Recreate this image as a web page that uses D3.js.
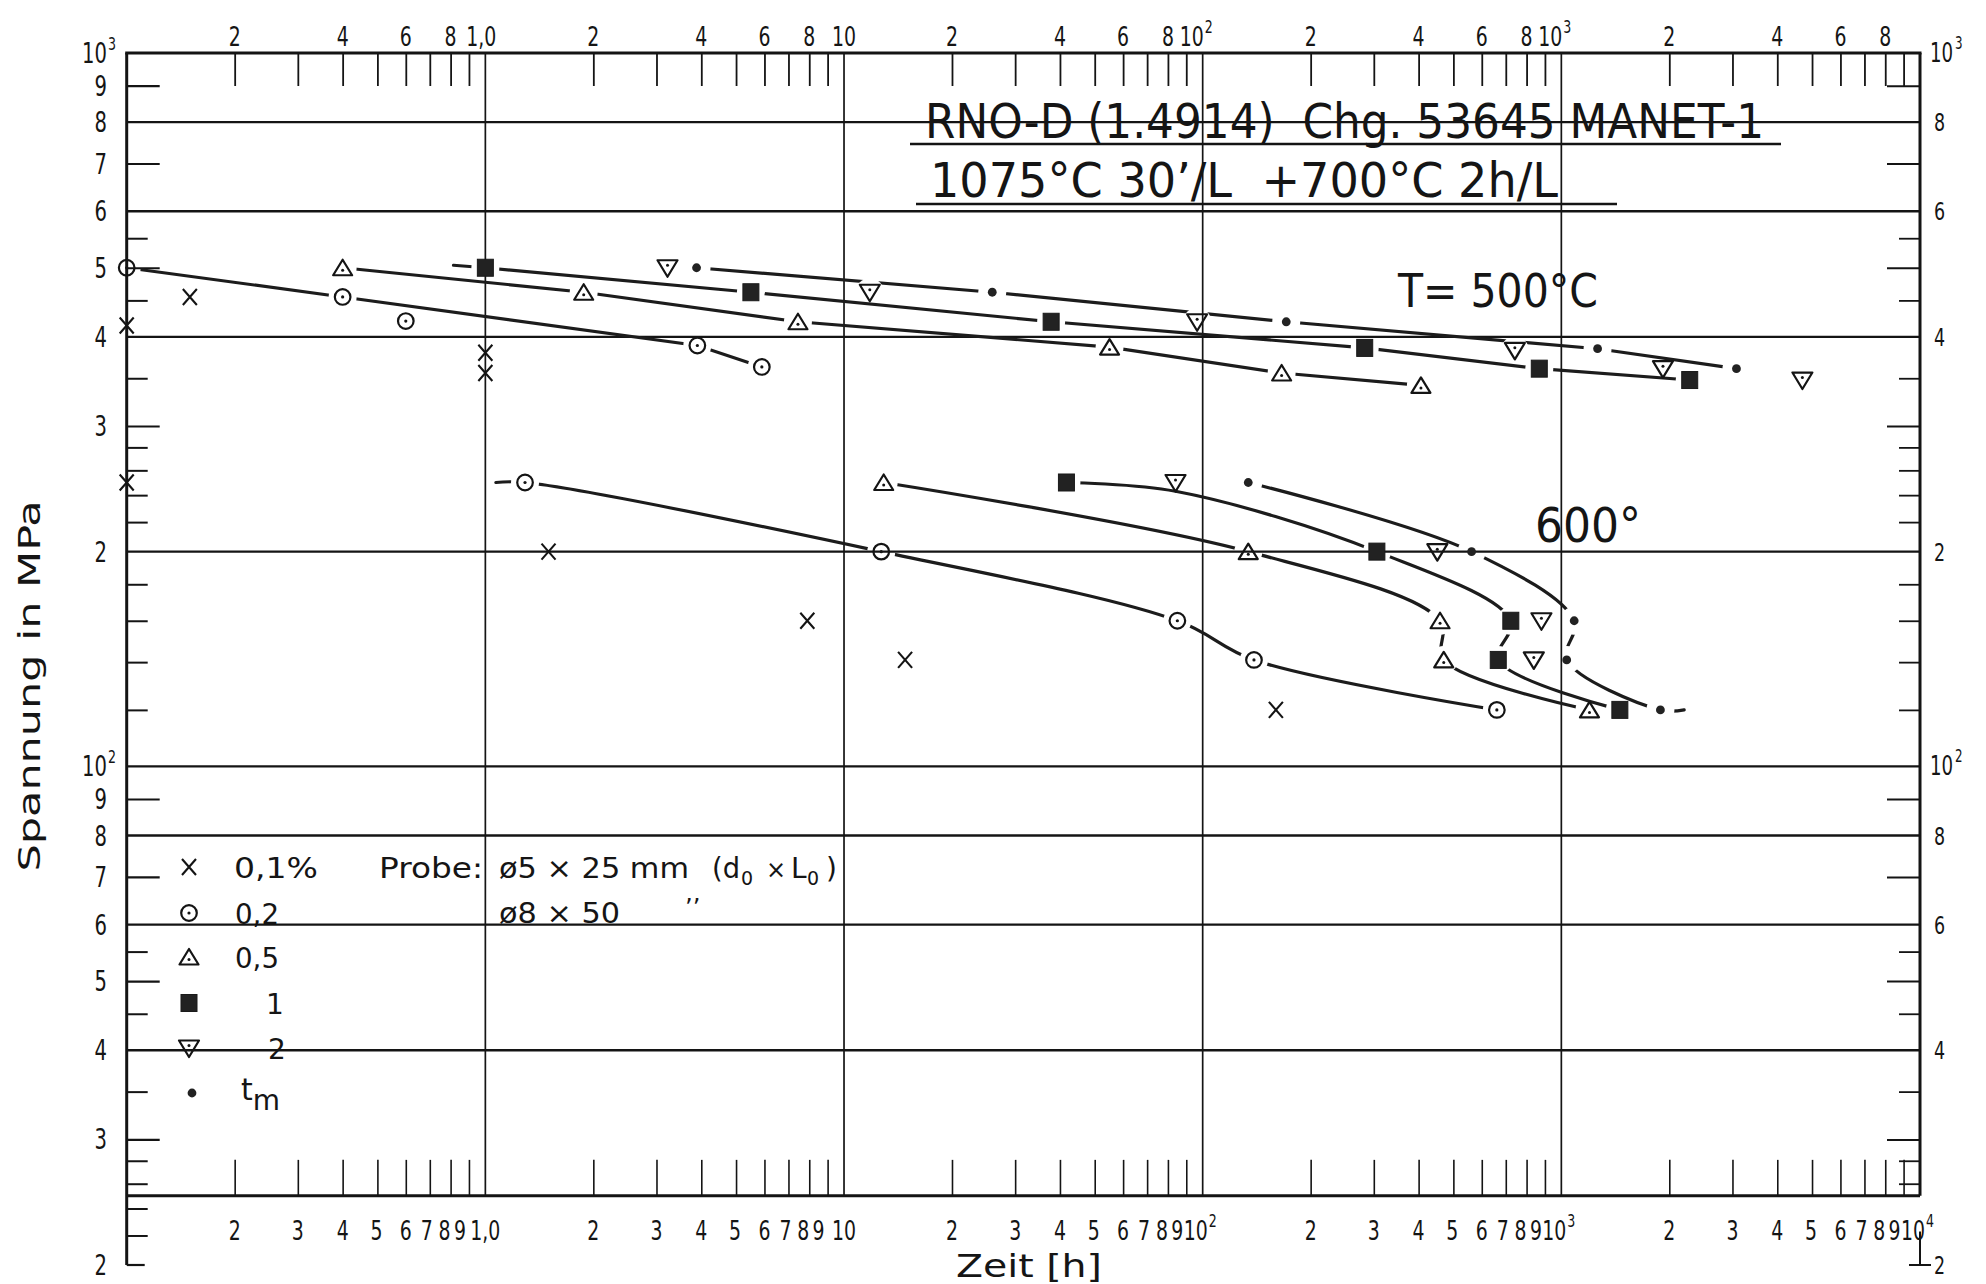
<!DOCTYPE html>
<html>
<head>
<meta charset="utf-8">
<script src="https://cdn.jsdelivr.net/npm/d3@7"></script>
<style>
  html, body { margin: 0; padding: 0; background: #fff; }
  svg { display: block; }
  text { font-family: "DejaVu Sans", "Liberation Sans", sans-serif; fill: #151515; white-space: pre; }
</style>
</head>
<body>
<svg id="chart" width="1986" height="1284"></svg>
<script>
// ---- Creep data: [time in h, stress in MPa] ----
// T = 500 °C
const cross500 = [[0.1, 415], [0.15, 455], [1.0, 380], [1.0, 356]];            // 0,1 %
const circle500 = [[0.1, 500], [0.4, 455], [0.6, 421], [3.9, 389], [5.9, 363]]; // 0,2 %
const tri500 = [[0.4, 500], [1.88, 462], [7.44, 420], [55, 387], [166, 356], [406, 342]]; // 0,5 %
const square500 = [[1.0, 500], [5.5, 462], [37.8, 420], [283, 386], [868, 361], [2280, 348]]; // 1 %
const inv500 = [[3.22, 500], [11.8, 462], [96.5, 420], [742, 383], [1920, 361], [4700, 348]]; // 2 %
const rupture500 = [[3.88, 500], [25.9, 462], [171, 420], [1262, 385], [3078, 361]]; // t_m

// T = 600 °C
const cross600 = [[0.1, 250], [1.5, 200], [7.9, 160], [14.8, 141], [160, 120]];
const circle600 = [[1.29, 250], [12.7, 200], [85, 160], [139, 141], [661, 120]];
const tri600 = [[12.9, 250], [134, 200], [459, 160], [470, 141], [1198, 120]];
const square600 = [[41.7, 250], [306, 200], [723, 160], [667, 141], [1456, 120]];
const inv600 = [[84, 250], [451, 200], [880, 160], [838, 141]];
const rupture600 = [[134, 250], [562, 200], [1086, 160], [1035, 141], [1889, 120]];

// Hand-drawn fit curves through the points
const fit500_02 = [[0.1, 500], [0.4, 455], [3.9, 389], [5.9, 363]];
const fit500_05 = tri500;
const fit500_1 = [[0.815, 504], ...square500];
const fit500_tm = rupture500;
const fit600_02 = [[1.07, 250], ...circle600];
const fit600_05 = tri600;
const fit600_1 = [[41.7, 250], [84, 243], [306, 200], [723, 160], [667, 141], [1456, 120]];
const fit600_tm = [...rupture600, [2200, 120]];

// ---- Axis definitions ----
const decades = [0.1, 1, 10, 100, 1000];
const mantissas = [2, 3, 4, 5, 6, 7, 8, 9];
const hGrid = [800, 600, 400, 200, 100, 80, 60, 40];
const vGrid = [1, 10, 100, 1000];
const axisStress = 25;
const yTicksLong = [900, 700, 500, 300, 90, 70, 50, 30];
const yTicksShort = [550, 450, 350, 280, 260, 240, 220, 180, 160, 140, 120, 55, 45, 35, 28, 26];
const yTicksShortLeft = [24, 22];

const topLabelVals = [0.2, 0.4, 0.6, 0.8, 1, 2, 4, 6, 8, 10, 20, 40, 60, 80, 100, 200, 400, 600, 800, 1000, 2000, 4000, 6000, 8000];
const topLabelTxt = ["2", "4", "6", "8", "1,0", "2", "4", "6", "8", "10", "2", "4", "6", "8", "10^2", "2", "4", "6", "8", "10^3", "2", "4", "6", "8"];
const bottomDecadeVals = [1, 10, 100, 1000, 10000];
const bottomDecadeTxt = ["1,0", "10", "10^2", "10^3", "10^4"];
const leftLabelVals = [1000, 900, 800, 700, 600, 500, 400, 300, 200, 100, 90, 80, 70, 60, 50, 40, 30, 20];
const leftLabelTxt = ["10^3", "9", "8", "7", "6", "5", "4", "3", "2", "10^2", "9", "8", "7", "6", "5", "4", "3", "2"];
const rightLabelVals = [1000, 800, 600, 400, 200, 100, 80, 60, 40, 20];
const rightLabelTxt = ["10^3", "8", "6", "4", "2", "10^2", "8", "6", "4", "2"];

const legendSymbols = ["x", "o", "tri", "sq", "inv", "dot"];
const legendLabels = ["0,1%", "0,2", "0,5", "1", "2", "t"];

// ---- Drawing ----
const ink = "#141414";
const svg = d3.select("#chart");
svg.append("rect").attr("width", 1986).attr("height", 1284).attr("fill", "#fff");

const x = d3.scaleLog().domain([0.1, 1e4]).range([126.7, 1920]);
const y = d3.scaleLog().domain([1000, 20]).range([53, 1265]);
const X0 = x(0.1), X1 = x(1e4), Y0 = y(1000), YB = y(axisStress), YE = y(20);

// grid
const grid = svg.append("g");
grid.selectAll("line.h").data(hGrid).join("line").attr("class", "h")
  .attr("x1", X0).attr("x2", X1).attr("y1", d => y(d)).attr("y2", d => y(d))
  .attr("stroke", ink).attr("stroke-width", 2.4);
grid.selectAll("line.v").data(vGrid).join("line").attr("class", "v")
  .attr("x1", d => x(d)).attr("x2", d => x(d)).attr("y1", Y0).attr("y2", YB)
  .attr("stroke", ink).attr("stroke-width", 1.7);

// frame
const frame = svg.append("g").attr("stroke", ink).attr("fill", "none");
frame.append("line").attr("x1", X0 - 1.5).attr("x2", X1 + 1.5).attr("y1", Y0).attr("y2", Y0).attr("stroke-width", 3);
frame.append("line").attr("x1", X0).attr("x2", X1).attr("y1", YB).attr("y2", YB).attr("stroke-width", 3);
frame.append("line").attr("x1", X0).attr("x2", X0).attr("y1", Y0).attr("y2", YE).attr("stroke-width", 3);
frame.append("line").attr("x1", X1).attr("x2", X1).attr("y1", Y0).attr("y2", YB).attr("stroke-width", 3);
frame.append("line").attr("x1", X0).attr("x2", X0 + 18).attr("y1", YE).attr("y2", YE).attr("stroke-width", 2.2);
frame.append("line").attr("x1", X1).attr("x2", X1).attr("y1", y(22) - 4).attr("y2", YE).attr("stroke-width", 2);
frame.append("line").attr("x1", X1 - 11).attr("x2", X1 + 11).attr("y1", YE).attr("y2", YE).attr("stroke-width", 2);

// ticks
const minorX = decades.flatMap(d => mantissas.map(m => +(m * d).toPrecision(3)));
function styleAxis(g, w) {
  g.select(".domain").remove();
  g.selectAll("line").attr("stroke", ink).attr("stroke-width", w);
  g.selectAll("text").remove();
}
svg.append("g").attr("transform", `translate(0,${Y0})`)
  .call(d3.axisTop(x).tickValues(minorX).tickSize(-33).tickFormat(""))
  .call(g => styleAxis(g, 1.8));
svg.append("g").attr("transform", `translate(0,${YB})`)
  .call(d3.axisBottom(x).tickValues(minorX).tickSize(-36).tickFormat(""))
  .call(g => styleAxis(g, 1.6));
svg.append("g").attr("transform", `translate(${X0},0)`)
  .call(d3.axisLeft(y).tickValues(yTicksLong).tickSize(-33).tickFormat(""))
  .call(g => styleAxis(g, 2.2));
svg.append("g").attr("transform", `translate(${X0},0)`)
  .call(d3.axisLeft(y).tickValues(yTicksShort.concat(yTicksShortLeft)).tickSize(-21).tickFormat(""))
  .call(g => styleAxis(g, 2));
svg.append("g").attr("transform", `translate(${X1},0)`)
  .call(d3.axisRight(y).tickValues(yTicksLong).tickSize(-33).tickFormat(""))
  .call(g => styleAxis(g, 2));
svg.append("g").attr("transform", `translate(${X1},0)`)
  .call(d3.axisRight(y).tickValues(yTicksShort).tickSize(-21).tickFormat(""))
  .call(g => styleAxis(g, 1.8));

// narrow lettering for scale numbers
const SX = 0.7;
function ntext(g, px, py, txt, anchor, size) {
  return g.append("text").attr("transform", `translate(${px},${py}) scale(${SX},1)`)
    .attr("text-anchor", anchor).attr("font-size", size).text(txt);
}
function powLabel(g, xEnd, yb, txt, size) {
  const [b, e] = txt.split("^");
  ntext(g, xEnd, yb, b, "end", size);
  ntext(g, xEnd + 1, yb - 13, e, "start", 18);
}
const lab = svg.append("g");
// top scale
topLabelVals.forEach((v, i) => {
  const t = topLabelTxt[i];
  if (t.includes("^")) powLabel(lab, x(v) + 1, 46, t, 27);
  else ntext(lab, t === "1,0" ? x(v) - 4 : x(v), 46, t, "middle", 27);
});
// bottom scale: the upper digits of each decade sit a little to the left
const crowdShift = { 2: 0, 3: 0, 4: 0, 5: -1, 6: 0, 7: -3, 8: -6, 9: -9 };
decades.forEach(d => mantissas.forEach(m => {
  ntext(lab, x(m * d) + crowdShift[m], 1240, String(m), "middle", 27);
}));
bottomDecadeVals.forEach((v, i) => {
  const t = bottomDecadeTxt[i];
  if (t.includes("^")) powLabel(lab, x(v) + 5, 1240, t, 27);
  else ntext(lab, x(v), 1240, t, "middle", 27);
});
// left scale
leftLabelVals.forEach((v, i) => {
  const t = leftLabelTxt[i];
  if (t.includes("^")) powLabel(lab, 107, y(v) + 10, t, 28);
  else ntext(lab, 107, y(v) + 10, t, "end", 28);
});
// right scale
rightLabelVals.forEach((v, i) => {
  const t = rightLabelTxt[i];
  if (t.includes("^")) {
    const [b, e] = t.split("^");
    ntext(lab, 1930, y(v) + 9, b, "start", 26);
    ntext(lab, 1955, y(v) - 4, e, "start", 17);
  } else ntext(lab, 1934, y(v) + 9, t, "start", 25);
});

// axis titles
svg.append("text").attr("transform", "translate(40,686) rotate(-90)").attr("text-anchor", "middle")
  .attr("font-size", 30).attr("textLength", 371).attr("lengthAdjust", "spacingAndGlyphs").text("Spannung in MPa");
svg.append("text").attr("x", 956).attr("y", 1277).attr("font-size", 32)
  .attr("textLength", 146).attr("lengthAdjust", "spacingAndGlyphs").text("Zeit [h]");

// heading
const head = svg.append("g").attr("font-size", 48);
head.append("text").attr("x", 925).attr("y", 138).attr("textLength", 839).attr("lengthAdjust", "spacingAndGlyphs")
  .text("RNO-D (1.4914)  Chg. 53645 MANET-1");
head.append("line").attr("x1", 910).attr("x2", 1781).attr("y1", 144).attr("y2", 144).attr("stroke", ink).attr("stroke-width", 2.4);
head.append("text").attr("x", 930).attr("y", 197).attr("textLength", 628).attr("lengthAdjust", "spacingAndGlyphs")
  .text("1075°C 30’/L  +700°C 2h/L");
head.append("line").attr("x1", 916).attr("x2", 1617).attr("y1", 204).attr("y2", 204).attr("stroke", ink).attr("stroke-width", 2.4);
head.append("text").attr("x", 1398).attr("y", 307).attr("font-size", 46).attr("textLength", 200).attr("lengthAdjust", "spacingAndGlyphs")
  .text("T= 500°C");
head.append("text").attr("x", 1535).attr("y", 542).attr("textLength", 106).attr("lengthAdjust", "spacingAndGlyphs")
  .text("600°");

// marker symbols
function marker(g, type, cx, cy) {
  const s = g.append("g").attr("stroke", ink).attr("fill", "none");
  if (type === "x") {
    s.append("path").attr("stroke-width", 2.1)
      .attr("d", `M${cx - 7},${cy - 8}L${cx + 7},${cy + 8}M${cx + 7},${cy - 8}L${cx - 7},${cy + 8}`);
  } else if (type === "o") {
    s.append("circle").attr("cx", cx).attr("cy", cy).attr("r", 7.8).attr("stroke-width", 2.2);
    s.append("circle").attr("cx", cx).attr("cy", cy).attr("r", 1.6).attr("fill", ink).attr("stroke", "none");
  } else if (type === "tri") {
    s.append("path").attr("stroke-width", 2.2).attr("stroke-linejoin", "round")
      .attr("d", `M${cx},${cy - 8}L${cx + 9.5},${cy + 7.5}L${cx - 9.5},${cy + 7.5}Z`);
    s.append("circle").attr("cx", cx).attr("cy", cy + 2.5).attr("r", 1.5).attr("fill", ink).attr("stroke", "none");
  } else if (type === "inv") {
    s.append("path").attr("stroke-width", 2.2).attr("stroke-linejoin", "round")
      .attr("d", `M${cx - 10},${cy - 7.5}L${cx + 10},${cy - 7.5}L${cx},${cy + 9}Z`);
    s.append("circle").attr("cx", cx).attr("cy", cy - 2.5).attr("r", 1.5).attr("fill", ink).attr("stroke", "none");
  } else if (type === "sq") {
    s.append("rect").attr("x", cx - 8).attr("y", cy - 8.5).attr("width", 16).attr("height", 17)
      .attr("fill", "#222").attr("stroke", "#1a1a1a").attr("stroke-width", 1);
  } else if (type === "dot") {
    s.append("circle").attr("cx", cx).attr("cy", cy).attr("r", 4.4).attr("fill", "#222").attr("stroke", "none");
  }
}

// fit curves, interrupted around their points
const fits = [
  { pts: fit500_02, cuts: circle500.filter((d, i) => i !== 2), curve: d3.curveLinear },
  { pts: fit500_05, cuts: tri500, curve: d3.curveLinear },
  { pts: fit500_1, cuts: square500, curve: d3.curveLinear },
  { pts: fit500_tm, cuts: rupture500.concat(inv500.slice(0, 4)), curve: d3.curveLinear },
  { pts: fit600_02, cuts: circle600, curve: d3.curveCatmullRom.alpha(0.5) },
  { pts: fit600_05, cuts: tri600, curve: d3.curveCatmullRom.alpha(0.5) },
  { pts: fit600_1, cuts: square600, curve: d3.curveCatmullRom.alpha(0.5) },
  { pts: fit600_tm, cuts: rupture600, curve: d3.curveCatmullRom.alpha(0.5) }
];
const defs = svg.append("defs");
const curves = svg.append("g");
fits.forEach((f, i) => {
  const m = defs.append("mask").attr("id", "gap" + i).attr("maskUnits", "userSpaceOnUse")
    .attr("x", 0).attr("y", 0).attr("width", 1986).attr("height", 1284);
  m.append("rect").attr("width", 1986).attr("height", 1284).attr("fill", "#fff");
  f.cuts.forEach(d => m.append("circle").attr("cx", x(d[0])).attr("cy", y(d[1])).attr("r", 14).attr("fill", "#000"));
  const gen = d3.line().x(d => x(d[0])).y(d => y(d[1])).curve(f.curve);
  curves.append("path").attr("d", gen(f.pts)).attr("fill", "none").attr("stroke", "#1c1c1c")
    .attr("stroke-width", 3.2).attr("stroke-linecap", "round").attr("mask", `url(#gap${i})`);
});

// points
const pts = svg.append("g");
const sets = [
  ["x", cross500], ["o", circle500], ["tri", tri500], ["sq", square500], ["inv", inv500], ["dot", rupture500],
  ["x", cross600], ["o", circle600], ["tri", tri600], ["sq", square600], ["inv", inv600], ["dot", rupture600]
];
sets.forEach(([type, arr]) => arr.forEach(d => marker(pts, type, x(d[0]), y(d[1]))));

// legend
const leg = svg.append("g").attr("font-size", 28);
const legRows = [867, 913, 957, 1003, 1048, 1093];
const legTextX = [234, 235, 235, 266, 268, 241];
const legTextW = [84, 44, 44, 0, 0, 0];
legendSymbols.forEach((s, i) => {
  marker(leg, s, s === "dot" ? 192 : 189, legRows[i]);
  const t = leg.append("text").attr("x", legTextX[i]).attr("y", legRows[i] + 11);
  if (legendLabels[i] === "t") {
    t.attr("font-size", 30).attr("y", legRows[i] + 7).text("t");
    t.append("tspan").attr("font-size", 28).attr("dy", 10).text("m");
  } else {
    t.text(legendLabels[i]);
    if (legTextW[i]) t.attr("textLength", legTextW[i]).attr("lengthAdjust", "spacingAndGlyphs");
  }
});
function piece(px, py, txt, size, w) {
  const t = leg.append("text").attr("x", px).attr("y", py).attr("font-size", size).text(txt);
  if (w) t.attr("textLength", w).attr("lengthAdjust", "spacingAndGlyphs");
  return t;
}
piece(379, 878, "Probe:", 28, 104);
piece(499, 878, "ø5 × 25 mm", 28, 190);
piece(712, 878, "(d", 28, 28);
piece(741, 885, "0", 19, 0);
piece(766, 878, "×", 24, 0);
piece(791, 878, "L", 28, 0);
piece(807, 885, "0", 19, 0);
piece(826, 878, ")", 28, 0);
piece(499, 923, "ø8 × 50", 28, 121);
piece(685, 916, "’’", 24, 0);
</script>
</body>
</html>
